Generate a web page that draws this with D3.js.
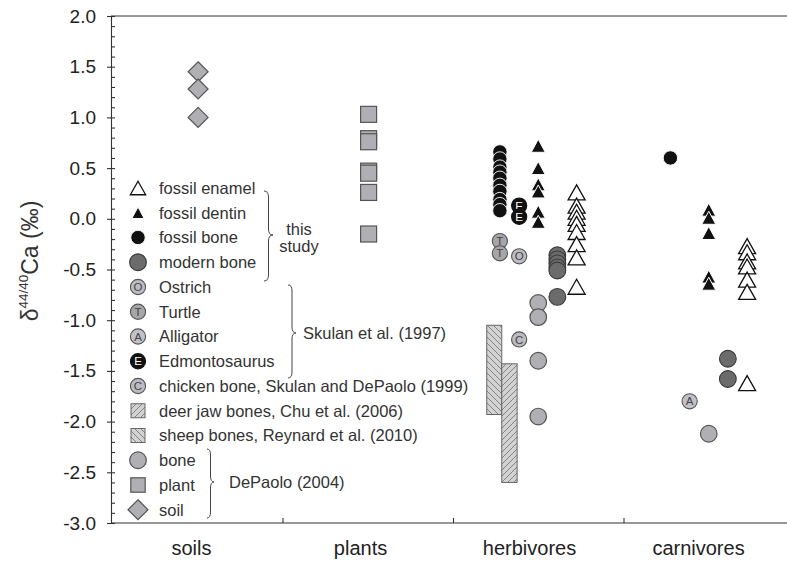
<!DOCTYPE html>
<html>
<head>
<meta charset="utf-8">
<script src="https://cdn.jsdelivr.net/npm/d3@7"></script>
<style>
  body { margin: 0; background: #fff; }
  svg { display: block; font-family: "Liberation Sans", Arial, Helvetica, sans-serif; }
</style>
</head>
<body>
<svg id="chart" width="787" height="561"></svg>
<script>
// ---- data -------------------------------------------------------------
const categories = ["soils", "plants", "herbivores", "carnivores"];
const yTickValues = [2.0, 1.5, 1.0, 0.5, 0.0, -0.5, -1.0, -1.5, -2.0, -2.5, -3.0];
const yTickLabels = ["2.0", "1.5", "1.0", "0.5", "0.0", "-0.5", "-1.0", "-1.5", "-2.0", "-2.5", "-3.0"];

// DePaolo (2004)
const soilDePaolo = [1.45, 1.28, 1.00];
const plantDePaolo = [1.03, 0.79, 0.76, 0.47, 0.45, 0.26, -0.15];
const herbBoneDePaolo = [-0.83, -0.97, -1.40, -1.95];
const carnBoneDePaolo = [-2.12];

// this study
const herbFossilEnamel = [0.26, 0.13, 0.07, 0.01, -0.05, -0.13, -0.25, -0.38, -0.67];
const herbFossilDentin = [0.72, 0.50, 0.34, 0.27, 0.07, -0.03];
const herbFossilBone = [0.66, 0.59, 0.51, 0.46, 0.40, 0.33, 0.27, 0.19, 0.14, 0.08];
const herbModernBone = [-0.36, -0.40, -0.44, -0.48, -0.51, -0.77];
const carnFossilEnamel = [-0.27, -0.33, -0.42, -0.47, -0.60, -0.72, -1.62];
const carnFossilDentin = [0.09, 0.01, -0.14, -0.57, -0.64];
const carnFossilBone = [0.60];
const carnModernBone = [-1.38, -1.58];

// Skulan et al. (1997), Skulan and DePaolo (1999)
const herbTurtle = [-0.22, -0.34];
const herbOstrich = [-0.37];
const herbEdmontosaurus = [0.13, 0.02];
const carnAlligator = [-1.80];
const herbChicken = [-1.19];

// ranges: Chu et al. (2006), Reynard et al. (2010)
const deerJawRange = [-1.43, -2.60];
const sheepRange = [-1.05, -1.93];

const legendLabels = [
  "fossil enamel", "fossil dentin", "fossil bone", "modern bone",
  "Ostrich", "Turtle", "Alligator", "Edmontosaurus",
  "chicken bone, Skulan and DePaolo (1999)",
  "deer jaw bones, Chu et al. (2006)",
  "sheep bones, Reynard et al. (2010)",
  "bone", "plant", "soil"
];
const groupLabels = { thisStudy: ["this", "study"], skulan: "Skulan et al. (1997)", depaolo: "DePaolo (2004)" };

// ---- layout -----------------------------------------------------------
const svg = d3.select("#chart");
const plotTop = 16, plotBottom = 523, plotLeft = 111, plotRight = 794;

const y = d3.scaleLinear().domain([-3, 2]).range([plotBottom, plotTop]);
const xBand = d3.scaleBand().domain(categories).range([112, plotRight]).padding(0);
const xAt = (cat, off) => xBand(cat) + xBand.bandwidth() * (0.5 + off);
// category captions sit on their own evenly spaced positions
const xLabel = d3.scalePoint().domain(categories).range([191, 698]);

// column offsets within a category band
const COL = { far: -0.225, near: -0.112, mid: 0, right: 0.112, farRight: 0.225 };

const GRAY = "#b0b0b4", GRAY_STROKE = "#555";

// ---- patterns ---------------------------------------------------------
const defs = svg.append("defs");
function hatch(id, d) {
  const p = defs.append("pattern").attr("id", id).attr("patternUnits", "userSpaceOnUse")
    .attr("width", 6).attr("height", 6);
  p.append("rect").attr("width", 6).attr("height", 6).attr("fill", "#d2d2d2");
  p.append("path").attr("d", d).attr("stroke", "#7c7c7c").attr("stroke-width", 0.9);
}
hatch("hatchDeer", "M0,6 L6,0 M-1.5,1.5 L1.5,-1.5 M4.5,7.5 L7.5,4.5");
hatch("hatchSheep", "M0,0 L6,6 M-1.5,4.5 L1.5,7.5 M4.5,-1.5 L7.5,1.5");

// ---- marker helpers ---------------------------------------------------
function triPath(cx, cy, w, h) {
  return `M${cx},${cy - h / 2} L${cx + w / 2},${cy + h / 2} L${cx - w / 2},${cy + h / 2} Z`;
}
function diamondPath(cx, cy, r) {
  return `M${cx},${cy - r} L${cx + r},${cy} L${cx},${cy + r} L${cx - r},${cy} Z`;
}
const drawers = {
  enamel: (g, cx, cy, s = 1) => g.append("path").attr("d", triPath(cx, cy, 17 * s, 15 * s))
    .attr("fill", "#fff").attr("stroke", "#111").attr("stroke-width", 1.3),
  dentin: (g, cx, cy, s = 1) => g.append("path").attr("d", triPath(cx, cy, 14 * s, 13 * s))
    .attr("fill", "#111").attr("stroke", "#fff").attr("stroke-width", 1),
  fossilBone: (g, cx, cy, s = 1) => g.append("circle").attr("cx", cx).attr("cy", cy).attr("r", 7.2 * s)
    .attr("fill", "#111").attr("stroke", "#fff").attr("stroke-width", 0.9),
  modernBone: (g, cx, cy, s = 1) => g.append("circle").attr("cx", cx).attr("cy", cy).attr("r", 8.4 * s)
    .attr("fill", "#6b6b6b").attr("stroke", "#3a3a3a").attr("stroke-width", 1.1),
  bone: (g, cx, cy, s = 1) => g.append("circle").attr("cx", cx).attr("cy", cy).attr("r", 8.3 * s)
    .attr("fill", GRAY).attr("stroke", GRAY_STROKE).attr("stroke-width", 1.2),
  plant: (g, cx, cy, s = 1) => g.append("rect").attr("x", cx - 8 * s).attr("y", cy - 8 * s)
    .attr("width", 16 * s).attr("height", 16 * s)
    .attr("fill", GRAY).attr("stroke", GRAY_STROKE).attr("stroke-width", 1.2),
  soil: (g, cx, cy, s = 1) => g.append("path").attr("d", diamondPath(cx, cy, 10 * s))
    .attr("fill", GRAY).attr("stroke", GRAY_STROKE).attr("stroke-width", 1.2)
};
function letterDrawer(letter, fill, stroke, textFill) {
  return (g, cx, cy) => {
    g.append("circle").attr("cx", cx).attr("cy", cy).attr("r", 7.6)
      .attr("fill", fill).attr("stroke", stroke).attr("stroke-width", 1.1);
    g.append("text").attr("x", cx).attr("y", cy).attr("dy", "0.36em")
      .attr("text-anchor", "middle").attr("font-size", 11.5).attr("fill", textFill).text(letter);
  };
}
drawers.ostrich = letterDrawer("O", "#bcbcc0", "#555", "#444");
drawers.turtle = letterDrawer("T", "#a6a6aa", "#555", "#444");
drawers.alligator = letterDrawer("A", "#c2c2c6", "#555", "#444");
drawers.edmonto = letterDrawer("E", "#111", "#111", "#fff");
drawers.chicken = letterDrawer("C", "#bcbcc0", "#555", "#444");

// ---- range bars -------------------------------------------------------
const marks = svg.append("g");
function rangeBar(cat, off0, off1, range, fillId) {
  const x0 = xAt(cat, off0), x1 = xAt(cat, off1);
  const yTop = y(d3.max(range)), yBot = y(d3.min(range));
  marks.append("rect").attr("x", x0).attr("y", yTop).attr("width", x1 - x0).attr("height", yBot - yTop)
    .attr("fill", `url(#${fillId})`).attr("stroke", "#666").attr("stroke-width", 1);
}
rangeBar("herbivores", -0.302, -0.214, sheepRange, "hatchSheep");
rangeBar("herbivores", -0.214, -0.124, deerJawRange, "hatchDeer");

// ---- point series -----------------------------------------------------
function series(cat, off, values, kind) {
  const g = marks.append("g");
  const cx = xAt(cat, off);
  values.slice().sort((a, b) => b - a).forEach(v => drawers[kind](g, cx, y(v)));
}
series("soils", 0.005, soilDePaolo, "soil");
series("plants", 0.005, plantDePaolo, "plant");

series("herbivores", COL.mid, herbBoneDePaolo, "bone");
series("herbivores", COL.near, herbChicken, "chicken");
series("herbivores", COL.far, herbTurtle, "turtle");
series("herbivores", COL.near, herbOstrich, "ostrich");
series("herbivores", COL.far, herbFossilBone, "fossilBone");
series("herbivores", COL.near, herbEdmontosaurus, "edmonto");
series("herbivores", COL.mid, herbFossilDentin, "dentin");
series("herbivores", COL.right, herbModernBone, "modernBone");
series("herbivores", COL.farRight, herbFossilEnamel, "enamel");

series("carnivores", COL.far, carnFossilBone, "fossilBone");
series("carnivores", COL.near, carnAlligator, "alligator");
series("carnivores", COL.mid, carnBoneDePaolo, "bone");
series("carnivores", COL.mid, carnFossilDentin, "dentin");
series("carnivores", COL.right, carnModernBone, "modernBone");
series("carnivores", COL.farRight, carnFossilEnamel, "enamel");

// ---- axes -------------------------------------------------------------
const axisColor = "#333";
const yAxis = svg.append("g").attr("transform", `translate(${plotLeft},0)`)
  .call(d3.axisLeft(y).tickValues(yTickValues).tickFormat((d, i) => yTickLabels[i])
    .tickSize(4).tickSizeOuter(0).tickPadding(11));
yAxis.selectAll("text").attr("font-size", 19).attr("fill", "#222").attr("font-family", null);
svg.append("g").attr("transform", `translate(${plotLeft},0)`)
  .call(d3.axisRight(y).tickValues(d3.range(-30, 21).map(i => i / 10)).tickSize(4).tickFormat(""))
  .call(g => g.select(".domain").remove());

const xTickScale = d3.scaleLinear().domain([0, categories.length]).range([112, plotRight]);
svg.append("g").attr("transform", `translate(0,${plotBottom})`)
  .call(d3.axisBottom(xTickScale).tickValues([1, 2, 3]).tickSize(-5).tickSizeOuter(0).tickFormat(""))
  .call(g => g.select(".domain").attr("d", `M${plotLeft},0H${plotRight}`));
const xLabels = svg.append("g").attr("transform", `translate(0,${plotBottom})`)
  .call(d3.axisBottom(xLabel).tickSize(0).tickPadding(18))
  .call(g => g.select(".domain").remove());
xLabels.selectAll("text").attr("font-size", 20).attr("fill", "#222").attr("font-family", null);

// frame top
svg.append("line").attr("x1", plotLeft).attr("x2", plotRight).attr("y1", plotTop).attr("y2", plotTop)
  .attr("stroke", axisColor);
svg.selectAll(".domain, .tick line").attr("stroke", axisColor).attr("stroke-width", 1.1);

// y title
const yTitle = svg.append("text").attr("transform", "translate(38,261) rotate(-90)")
  .attr("text-anchor", "middle").attr("font-size", 23).attr("fill", "#333");
yTitle.append("tspan").text("δ");
yTitle.append("tspan").attr("font-size", 13.5).attr("dy", -10).text("44/40");
yTitle.append("tspan").attr("dy", 10).text("Ca (‰)");

// ---- legend -----------------------------------------------------------
const legendKinds = ["enamel", "dentin", "fossilBone", "modernBone", "ostrich", "turtle", "alligator",
  "edmonto", "chicken", "deer", "sheep", "bone", "plant", "soil"];
const legend = svg.append("g");
const rowY = i => 188 + i * 24.75;
legendKinds.forEach((k, i) => {
  const cy = rowY(i), cx = 138;
  if (k === "deer" || k === "sheep") {
    legend.append("rect").attr("x", cx - 7).attr("y", cy - 7).attr("width", 14).attr("height", 14)
      .attr("fill", `url(#${k === "deer" ? "hatchDeer" : "hatchSheep"})`).attr("stroke", "#666");
  } else {
    const s = (k === "enamel") ? 0.9 : (k === "dentin") ? 0.88 : (k === "plant") ? 0.9 : 1;
    drawers[k](legend, cx, cy, s);
  }
  legend.append("text").attr("x", 159).attr("y", cy).attr("dy", "0.35em")
    .attr("font-size", 16.5).attr("fill", "#333").text(legendLabels[i]);
});

function brace(x, y0, y1, tipY, d) {
  const m = x + d / 2, q = 6;
  return `M${x},${y0} Q${m},${y0} ${m},${y0 + q} L${m},${tipY - q} Q${m},${tipY} ${x + d},${tipY} ` +
    `Q${m},${tipY} ${m},${tipY + q} L${m},${y1 - q} Q${m},${y1} ${x},${y1}`;
}
const braceG = svg.append("g").attr("fill", "none").attr("stroke", "#444").attr("stroke-width", 1);
braceG.append("path").attr("d", brace(264, 191, 281, 235, 9));
braceG.append("path").attr("d", brace(288, 285, 378, 333, 8));
braceG.append("path").attr("d", brace(207, 449, 518, 482, 7));

svg.append("text").attr("x", 299).attr("y", 235).attr("text-anchor", "middle")
  .attr("font-size", 16.5).attr("fill", "#333").text(groupLabels.thisStudy[0]);
svg.append("text").attr("x", 299).attr("y", 252).attr("text-anchor", "middle")
  .attr("font-size", 16.5).attr("fill", "#333").text(groupLabels.thisStudy[1]);
svg.append("text").attr("x", 303).attr("y", 333).attr("dy", "0.35em")
  .attr("font-size", 16.5).attr("fill", "#333").text(groupLabels.skulan);
svg.append("text").attr("x", 229).attr("y", 482).attr("dy", "0.35em")
  .attr("font-size", 16.5).attr("fill", "#333").text(groupLabels.depaolo);
</script>
</body>
</html>
